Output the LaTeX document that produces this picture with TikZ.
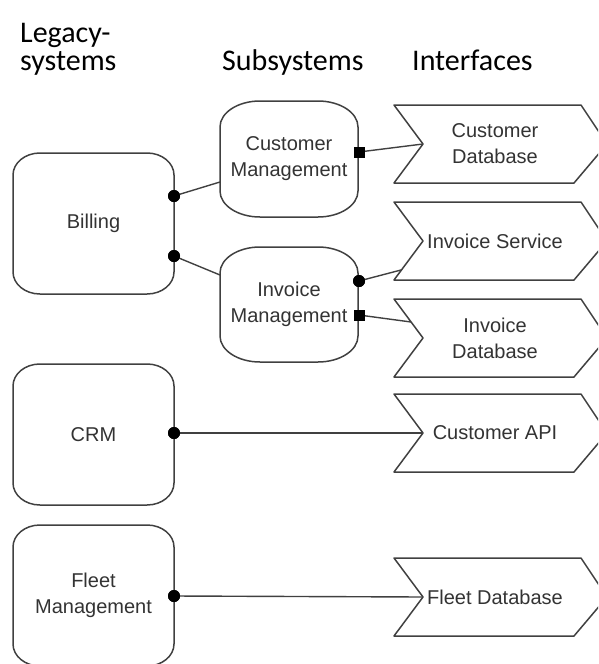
\documentclass[tikz,border=0pt]{standalone}
\usepackage{fontspec}
\setmainfont{Liberation Sans}
\newfontfamily\headfont{Carlito}
\usetikzlibrary{calc}

% rounded box with elliptical corners: name, x1, y1, x2, y2, rx, ry, text
\newcommand\softbox[8]{%
  \draw[outline] (#2+#6,#3) -- (#4-#6,#3)
    arc[start angle=-90, end angle=0, x radius=#6, y radius=#7]
    -- (#4,#5-#7)
    arc[start angle=0, end angle=90, x radius=#6, y radius=#7]
    -- (#2+#6,#5)
    arc[start angle=90, end angle=180, x radius=#6, y radius=#7]
    -- (#2,#3+#7)
    arc[start angle=180, end angle=270, x radius=#6, y radius=#7]
    -- cycle;
  \node[label] (#1) at ({(#2+#4)/2},{(#3+#5)/2}) {#8};%
}

% interface chevron: name, vertical middle, text
\newcommand\chevron[3]{%
  \draw[outline] (394,#2-39) -- (581,#2-39) -- (607,#2) -- (574,#2+39)
    -- (394,#2+39) -- (423,#2) -- cycle;
  \coordinate (#1-tl) at (394,#2-39);
  \coordinate (#1-n) at (423,#2);
  \coordinate (#1-bl) at (394,#2+39);
  \node[label] (#1) at (495,#2) {#3};%
}

\begin{document}
\begin{tikzpicture}[x=1pt, y=-1pt,
  outline/.style={draw=black!75, line width=1.5pt, line join=round},
  wire/.style={draw=black!75, line width=1.4pt},
  label/.style={font=\fontsize{20}{26}\selectfont, text=black!80, align=center, inner sep=0pt},
  head/.style={font=\headfont\fontsize{30}{27}\selectfont, inner sep=0pt, align=left},
  dotc/.style={circle, fill=black, minimum size=12pt, inner sep=0pt},
  dots/.style={rectangle, fill=black, minimum size=11pt, inner sep=0pt},
]
\useasboundingbox (0,0) rectangle (598,664);
\clip (0,0) rectangle (598,664);

% column headings
\node[head, anchor=base west] (hlegacy) at (20,42) {Legacy-};
\node[head, anchor=base west] (hlegacy2) at (20,70) {systems};
\node[head, anchor=base west] (hsub) at (222,70) {Subsystems};
\node[head, anchor=base west] (hint) at (412,70) {Interfaces};

% legacy systems
\softbox{billing}{13}{153}{174}{294}{27}{22}{Billing}
\softbox{crm}{13}{364}{174}{505}{27}{22}{CRM}
\softbox{fleet}{13}{525}{174}{666}{27}{22}{Fleet\\Management}

% subsystems
\softbox{custmgmt}{220}{101}{358}{217}{40}{26}{Customer\\Management}
\softbox{invmgmt}{220}{247}{358}{362}{40}{26}{Invoice\\Management}

% interfaces
\chevron{custdb}{144}{Customer\\Database}
\chevron{invsvc}{241}{Invoice Service}
\chevron{invdb}{338}{Invoice\\Database}
\chevron{custapi}{433}{Customer API}
\chevron{fleetdb}{597}{Fleet Database}

% connection points
\coordinate (cm-in) at (220,182);
\coordinate (im-in) at (220,275);
\coordinate (invsvc-in) at ($(invsvc-n)!0.74!(invsvc-bl)$);
\coordinate (invdb-in) at ($(invdb-n)!0.41!(invdb-tl)$);

\node[dotc] (b1) at (174,196) {};
\node[dotc] (b2) at (174,256) {};
\node[dots] (c1) at (359,152) {};
\node[dotc] (i1) at (359,281) {};
\node[dots] (i2) at (359,315) {};
\node[dotc] (r1) at (174,433) {};
\node[dotc] (f1) at (174,596) {};

% connectors
\draw[wire] (b1.center) -- (cm-in);
\draw[wire] (b2.center) -- (im-in);
\draw[wire] (c1.center) -- (custdb-n);
\draw[wire] (i1.center) -- (invsvc-in);
\draw[wire] (i2.center) -- (invdb-in);
\draw[wire] (r1.center) -- (custapi-n);
\draw[wire] (f1.center) -- (fleetdb-n);

% redraw the dots on top of the wires
\foreach \d/\s in {b1/dotc, b2/dotc, c1/dots, i1/dotc, i2/dots, r1/dotc, f1/dotc}
  \node[\s] at (\d) {};
\end{tikzpicture}
\end{document}
